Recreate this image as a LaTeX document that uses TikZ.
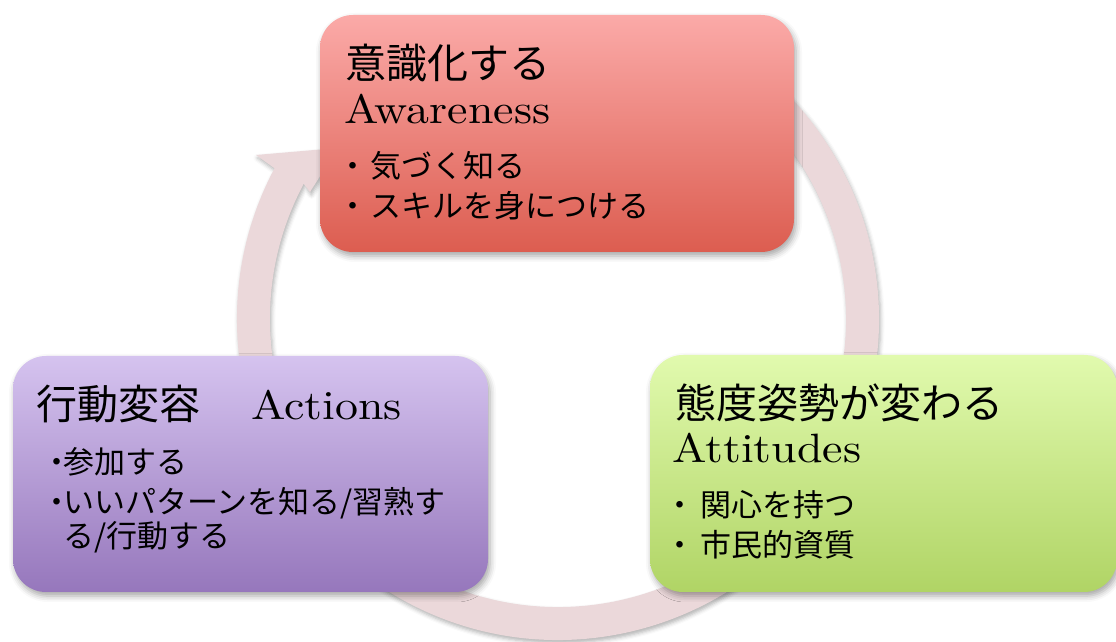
\documentclass[tikz,border=0pt]{standalone}
\usepackage{fontspec}
\usepackage{graphicx}
\newfontfamily\jp{Noto Sans CJK JP}
\newfontfamily\lmten{lmroman10-regular.otf}
\usetikzlibrary{shadows.blur,calc}
\definecolor{ringc}{HTML}{EBD8DA}
\definecolor{redtop}{HTML}{FBAAA8}
\definecolor{redbot}{HTML}{DC5D50}
\definecolor{purtop}{HTML}{D5C3EF}
\definecolor{purbot}{HTML}{9677BC}
\definecolor{grntop}{HTML}{E1FAAE}
\definecolor{grnbot}{HTML}{B0D465}
\newcommand\wlat[1]{\scalebox{1.12}[1]{#1}}
\tikzset{
  softshadow/.style={blur shadow={shadow xshift=2pt,shadow yshift=-4pt,shadow blur radius=6pt,shadow opacity=35}},
  cardbox/.style={rounded corners=33pt, draw=none, inner sep=0pt, softshadow},
  txt/.style={anchor=base west, inner sep=0pt, text=black},
  ttl/.style={txt, font=\jp\fontsize{41}{41}\selectfont},
  lat/.style={txt, font=\lmten\fontsize{41}{41}\selectfont},
  bul/.style={txt, font=\jp\fontsize{31}{31}\selectfont},
}
\begin{document}
\begin{tikzpicture}[x=1pt,y=1pt]
\useasboundingbox (0,0) rectangle (1116,642);
\coordinate (C) at (558,323);
% cycle arrow
\path[fill=ringc, blur shadow={shadow xshift=1.5pt,shadow yshift=-3pt,shadow blur radius=4pt,shadow opacity=30}]
  ($(C)+(60:321)$) arc[start angle=60,end angle=-208,radius=321]
  -- (256,487) -- (338,494) -- (310,450)
  -- ($(C)+(152:288)$) arc[start angle=152,end angle=420,radius=288] -- cycle;
% boxes
\node[cardbox, top color=redtop, bottom color=redbot, minimum width=474pt, minimum height=237pt] (aw) at (557,508.5) {};
\node[cardbox, top color=purtop, bottom color=purbot, minimum width=475pt, minimum height=236pt] (ac) at (250.5,168) {};
\node[cardbox, top color=grntop, bottom color=grnbot, minimum width=467pt, minimum height=237pt] (at) at (883.5,168.5) {};
% Awareness texts
\node[ttl] (r1) at (345,563) {意識化する};
\node[lat] (r2) at (344,518) {\wlat{Awareness}};
\node[bul] (r3) at (336,464.5) {\makebox[34pt]{・}気づく知る};
\node[bul] (r4) at (336,424) {\makebox[34pt]{・}スキルを身につける};
% Actions texts
\node[ttl] (p1) at (36,222) {行動変容　\hspace{10pt}{\lmten\fontsize{41}{41}\selectfont\wlat{Actions}}};
\node[bul] (p2) at (51,168) {\makebox[12pt]{・}参加する};
\node[bul] (p3) at (51,128) {\makebox[12pt]{・}いいパターンを知る/習熟す};
\node[bul] (p4) at (63,94) {る/行動する};
% Attitudes texts
\node[ttl] (g1) at (675,223) {態度姿勢が変わる};
\node[lat] (g2) at (672,179) {\wlat{Attitudes}};
\node[bul] (g3) at (660,125) {\makebox[40pt]{・}関心を持つ};
\node[bul] (g4) at (660,85) {\makebox[40pt]{・}市民的資質};
\end{tikzpicture}
\end{document}
